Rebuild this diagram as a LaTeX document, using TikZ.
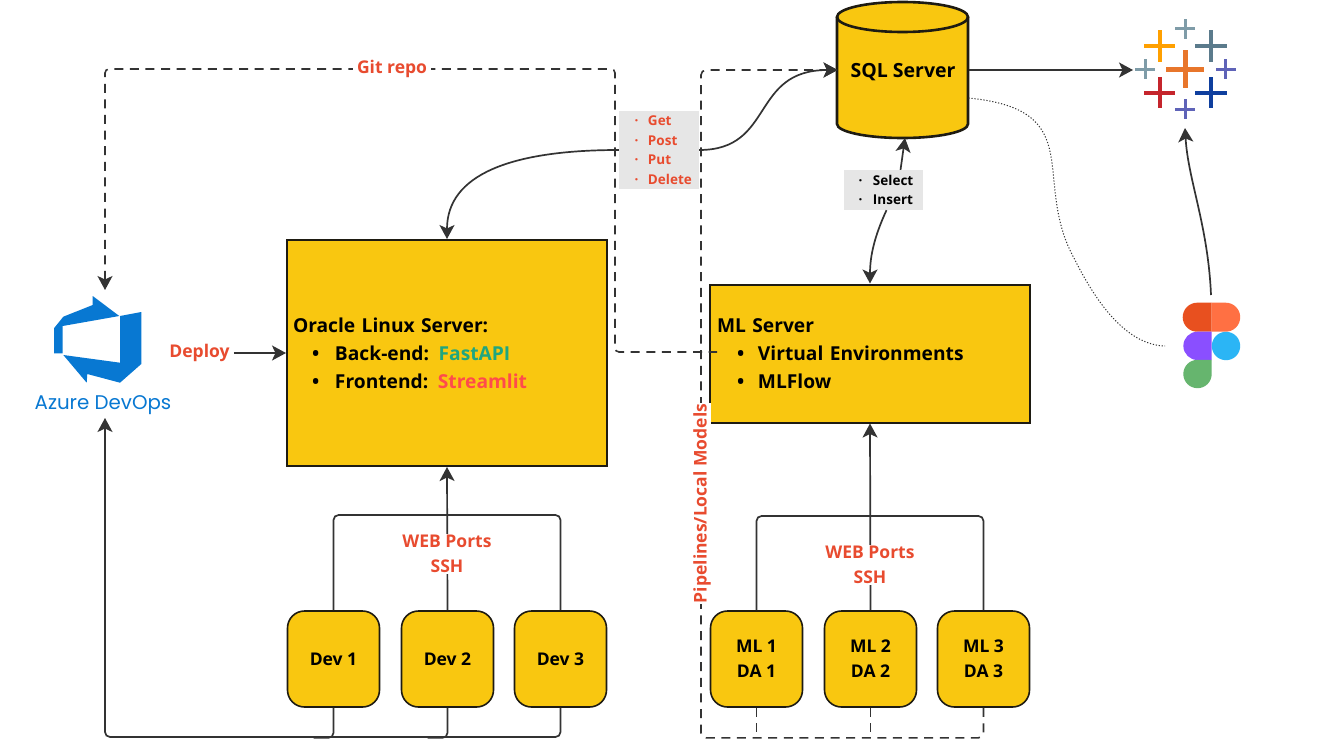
\documentclass[tikz,border=0pt]{standalone}
\usepackage{fontspec}
\setmainfont{Open Sans}
\newfontfamily\azurefont{Poppins}
\usetikzlibrary{arrows.meta,calc}
\definecolor{amber}{HTML}{F9C710}
\definecolor{edge}{HTML}{1E1B12}
\definecolor{wire}{HTML}{333333}
\definecolor{redlabel}{HTML}{E84B2F}
\definecolor{boxgrey}{HTML}{E6E6E6}
\definecolor{azureblue}{HTML}{0878D2}
\definecolor{fastgreen}{HTML}{1FA67F}
\definecolor{streamred}{HTML}{FF4B4B}
\definecolor{tabyellow}{HTML}{FFA000}
\definecolor{tabgrey}{HTML}{7F9CA8}
\definecolor{tabslate}{HTML}{5B7B8C}
\definecolor{taborange}{HTML}{E8762B}
\definecolor{tabpurple}{HTML}{5F63B8}
\definecolor{tabred}{HTML}{C5252C}
\definecolor{tabblue}{HTML}{0F3F9E}
\definecolor{figred}{HTML}{E8501F}
\definecolor{figorange}{HTML}{FF7043}
\definecolor{figpurple}{HTML}{8A4FFF}
\definecolor{figblue}{HTML}{2BB5F5}
\definecolor{figgreen}{HTML}{66B56E}
\newcommand{\bul}[3]{\hspace*{#1pt}\makebox[#2pt][l]{•}#3}
\newcommand{\dotbul}[3]{\hspace*{#1pt}\makebox[#2pt][l]{·}#3}
\newcommand{\tabplus}[5]{\fill[#5] ({#1-#3},{#2-#4/2}) rectangle ({#1+#3},{#2+#4/2}); \fill[#5] ({#1-#4/2},{#2-#3}) rectangle ({#1+#4/2},{#2+#3});}
\tikzset{
  x=1pt,y=-1pt,
  tipstyle/.style={-{Stealth[length=14pt,width=15pt,inset=3.5pt]}},
  server/.style={draw=edge,line width=2pt,fill=amber,minimum width=320pt,text width=306pt,inner sep=7pt,align=left,font=\bfseries\fontsize{19.2}{28}\selectfont},
  worker/.style={draw=edge,line width=1.6pt,fill=amber,rounded corners=17pt,minimum width=92pt,minimum height=96pt,inner sep=0pt,align=center,font=\bfseries\fontsize{17.5}{25}\selectfont},
  wirepath/.style={draw=wire,line width=1.7pt},
  arrowed/.style={wirepath,tipstyle},
  dashwire/.style={draw=wire,line width=1.6pt,dash pattern=on 9pt off 6.6pt},
  redtext/.style={text=redlabel,font=\bfseries\fontsize{17.5}{25}\selectfont,align=center,inner sep=1pt},
  greybox/.style={fill=boxgrey,inner sep=0pt,align=left,font=\bfseries\fontsize{13.5}{19.6}\selectfont},
  ghost/.style={inner sep=0pt,outer sep=0pt},
}
\begin{document}
\begin{tikzpicture}
\useasboundingbox (0,0) rectangle (1333,749);
\fill[white] (0,0) rectangle (1333,749);

% invisible anchors for the logos
\node[ghost,minimum width=20pt,minimum height=128pt] (azure) at (105,354) {};
\node[ghost,minimum width=104pt,minimum height=116pt] (tableau) at (1185,70) {};
\node[ghost,minimum width=50pt,minimum height=102pt] (figma) at (1211,346) {};

% dashed routes (behind the boxes)
\node[server,minimum height=138pt] (ml) at (870,353.5) {ML Server\\\bul{20}{21}{Virtual Environments}\\\bul{20}{21}{MLFlow}};
\node[ghost,minimum width=131pt,minimum height=136pt] (sql) at (903,70) {};
\coordinate (gitend) at ($(ml.west)+(8,-1.5)$);
\draw[dashwire,rounded corners=4pt,{Stealth[length=14pt,width=15pt,inset=3.5pt]}-] (azure.north) |- (615,69) |- (gitend);

% database
\fill[amber] (837,17) -- (837,124) arc[start angle=180,end angle=360,x radius=65.5pt,y radius=14pt] -- (968,17) arc[start angle=0,end angle=360,x radius=65.5pt,y radius=15pt] -- cycle;
\draw[edge,line width=2.6pt] (837,17) -- (837,124) arc[start angle=180,end angle=360,x radius=65.5pt,y radius=14pt] -- (968,17);
\draw[edge,line width=2.6pt] (902.5,17) ellipse[x radius=65.5pt,y radius=15pt];
\node[font=\bfseries\fontsize{19.5}{22}\selectfont,inner sep=0pt] at ($(sql.center)+(0,2)$) {SQL Server};

\node[server,minimum height=226pt] (oracle) at (447,353) {\hspace*{-1pt}Oracle Linux Server:\\\bul{18}{23}{Back-end: \textcolor{fastgreen}{FastAPI}}\\\bul{18}{23}{Frontend: \textcolor{streamred}{Streamlit}}};

\node[worker] (dev1) at (333.5,659) {Dev 1};
\node[worker] (dev2) at (447.5,659) {Dev 2};
\node[worker] (dev3) at (560.5,659) {Dev 3};
\node[worker] (ml1) at (756.5,659) {ML 1\\DA 1};
\node[worker] (ml2) at (870.5,659) {ML 2\\DA 2};
\node[worker] (ml3) at (983.5,659) {ML 3\\DA 3};

% dashed pipelines route
\coordinate (pipefoot) at ($(ml1.south)+(-55.5,30)$);
\draw[dashwire,rounded corners=5pt,tipstyle] (ml3.south) |- (pipefoot) |- (sql.west);
\draw[dashwire] (ml1.south) -- ($(ml1.south)+(0,30)$);
\draw[dashwire] (ml2.south) -- ($(ml2.south)+(0,30)$);

% grey labels
\node[greybox,text=redlabel,minimum width=80pt,text width=80pt,minimum height=78pt] (api) at (659,150) {\dotbul{15.5}{13.5}{Get}\\\dotbul{15.5}{13.5}{Post}\\\dotbul{15.5}{13.5}{Put}\\\dotbul{15.5}{13.5}{Delete}};
\node[greybox,text=black,minimum width=79pt,text width=79pt,minimum height=40pt] (query) at (883.5,190) {\dotbul{14.5}{14.5}{Select}\\\dotbul{14.5}{14.5}{Insert}};

% API and SQL curves
\draw[arrowed] (api.west) .. controls (510,150) and (447,175) .. (oracle.north);
\draw[arrowed] (api.east) .. controls (775,150) and (750,70) .. (sql.west);
\draw[arrowed] ($(query.north)+(17,0)$) -- ($(sql.south)+(2,0)$);
\draw[arrowed] ($(query.south)+(3,0)$) .. controls (875,235) and (870,255) .. (ml.north);

% developers
\draw[wirepath,rounded corners=5pt] (dev1.north) |- (dev2.north |- 0,515) -| (dev3.north);
\draw[arrowed] (dev2.north) -- (oracle.south);
\draw[arrowed,rounded corners=5pt] (dev3.south) |- (azure.south |- 0,737) -- (azure.south);
\draw[wirepath,rounded corners=5pt] (dev1.south) |- ($(dev1.south)+(-20,30)$);
\draw[wirepath,rounded corners=5pt] (dev2.south) |- ($(dev2.south)+(-20,30)$);
\node[redtext,fill=white] (webdev) at (447,554) {WEB Ports\\SSH};

% ML
\draw[wirepath,rounded corners=5pt] (ml1.north) |- (ml2.north |- 0,516) -| (ml3.north);
\draw[arrowed] (ml2.north) -- (ml.south);
\node[redtext,fill=white] (webml) at (870,565) {WEB Ports\\SSH};

% other connectors
\draw[arrowed] (sql.east) -- (tableau.west);
\draw[arrowed] (figma.north) .. controls (1208,225) and (1188,180) .. (tableau.south);
\coordinate (sqlside) at ($(sql.east)+(0,28)$);
\coordinate (figmaside) at ($(figma.west)+(-21,0)$);
\draw[draw=wire,line width=1pt,dash pattern=on 1.2pt off 1.8pt] (sqlside) .. controls (1090,110) and (1030,180) .. (1075,260) .. controls (1100,310) and (1130,345) .. (figmaside);

% text labels
\node[redtext,fill=white,inner xsep=4pt] (git) at (392,69) {Git repo};
\node[redtext] (deploy) at (199.5,353) {Deploy};
\draw[arrowed] ($(deploy.east)+(3,0)$) -- (oracle.west);
\node[redtext,fill=white,rotate=90,inner sep=0.5pt] (pipelines) at (702,503.5) {Pipelines/Local Models};

% Azure DevOps logo
\fill[azureblue] (92.7,296) -- (119.3,316) -- (62.7,326) -- (62.7,353.3) -- (54,353.3) -- (54,328.3) -- (63.3,316.7) -- (92.7,305) -- cycle;
\fill[azureblue] (63.3,355) -- (120,362.7) -- (120,316) -- (141.3,312) -- (141.3,364) -- (120,382.7) -- (87.3,374) -- (86.7,382.7) -- cycle;
\node[text=azureblue,font=\azurefont\fontsize{19.8}{22}\selectfont,inner sep=0pt] (azurelabel) at (103,405) {Azure DevOps};

% Tableau logo
\tabplus{1159.7}{46}{15.7}{4}{tabyellow}
\tabplus{1185.3}{29}{10}{3}{tabgrey}
\tabplus{1211}{46}{15.7}{4}{tabslate}
\tabplus{1145}{69.3}{10}{3}{tabgrey}
\tabplus{1185.3}{69.3}{19}{5.5}{taborange}
\tabplus{1225.7}{69.3}{10}{3}{tabpurple}
\tabplus{1159.7}{92.7}{15.7}{4}{tabred}
\tabplus{1211}{92.7}{15.7}{4}{tabblue}
\tabplus{1185.3}{109.3}{10}{3}{tabpurple}

% Figma logo
\fill[figred] (1211.7,302.7) -- (1197.2,302.7) arc[start angle=90,end angle=270,radius=14.5pt] -- (1211.7,331.7) -- cycle;
\fill[figorange] (1211.7,302.7) -- (1225.7,302.7) arc[start angle=90,end angle=-90,radius=14.5pt] -- (1211.7,331.7) -- cycle;
\fill[figpurple] (1211.7,331.7) -- (1197.5,331.7) arc[start angle=90,end angle=270,radius=14.15pt] -- (1211.7,360) -- cycle;
\fill[figblue] (1226,346) circle[radius=14.2pt];
\fill[figgreen] (1211.7,360) -- (1211.7,374) arc[start angle=0,end angle=-180,radius=14.2pt] arc[start angle=180,end angle=90,radius=14.2pt] -- cycle;
\end{tikzpicture}
\end{document}
